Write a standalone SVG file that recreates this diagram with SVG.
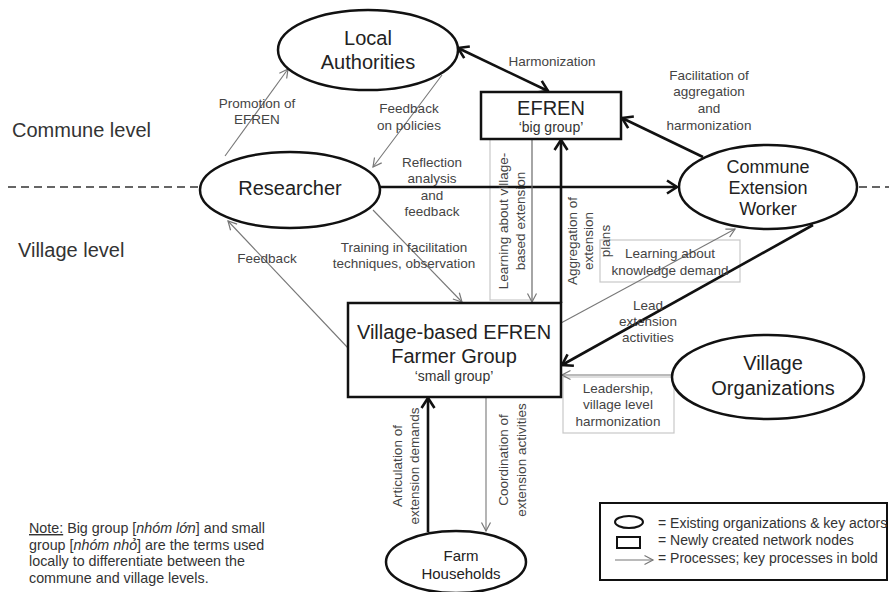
<svg xmlns="http://www.w3.org/2000/svg" width="889" height="592" viewBox="0 0 889 592">
<defs>
<style>
.node{fill:#fff;stroke:#111;stroke-width:2.5}
.nt{font-family:"Liberation Sans",Arial,sans-serif;font-size:20px;fill:#222;text-anchor:middle}
.nts{font-family:"Liberation Sans",Arial,sans-serif;font-size:14px;fill:#333;text-anchor:middle}
.lbl{font-family:"Liberation Sans",Arial,sans-serif;font-size:13.5px;fill:#444;text-anchor:middle}
.thick{stroke:#111;stroke-width:2.6;fill:none;marker-end:url(#ahThick)}
.thin{stroke:#777;stroke-width:1.1;fill:none;marker-end:url(#ahThin)}
.lbox{fill:none;stroke:#c8c8c8;stroke-width:1.2}
.dash{stroke:#333;stroke-width:1.6;stroke-dasharray:8 5}
.side{font-family:"Liberation Sans",Arial,sans-serif;font-size:20px;fill:#333}
.note{font-family:"Liberation Sans",Arial,sans-serif;font-size:14.3px;fill:#333}
.leg{font-family:"Liberation Sans",Arial,sans-serif;font-size:14px;fill:#333}
</style>
<marker id="ahThin" markerUnits="userSpaceOnUse" markerWidth="12" markerHeight="12" viewBox="0 0 12 12" refX="10.5" refY="6" orient="auto"><path d="M2,1.5 L10.5,6 L2,10.5" fill="none" stroke="#777" stroke-width="1.2"/></marker>
<marker id="ahThick" markerUnits="userSpaceOnUse" markerWidth="16" markerHeight="16" viewBox="0 0 16 16" refX="13" refY="8" orient="auto-start-reverse"><path d="M3,1.5 L13,8 L3,14.5" fill="none" stroke="#111" stroke-width="2.6"/></marker>
</defs>
<rect width="889" height="592" fill="#fff"/>

<g id="levels">
<line class="dash" x1="8" y1="187" x2="200" y2="187"/>
<line class="dash" x1="859" y1="187" x2="889" y2="187"/>
<text class="side" x="12" y="137">Commune level</text>
<text class="side" x="18" y="257">Village level</text>
</g>

<g id="connectors">
<rect class="lbox" x="490" y="139" width="42" height="161"/>
<rect class="lbox" x="600" y="240" width="140" height="42"/>
<rect class="lbox" x="563" y="377" width="111" height="56"/>

<line class="thin" x1="225" y1="156" x2="288" y2="69"/>
<line class="thin" x1="442" y1="75" x2="373" y2="167"/>
<line class="thick" x1="458" y1="48" x2="548" y2="91" style="marker-start:url(#ahThick)"/>
<line class="thick" x1="380" y1="187" x2="677" y2="187"/>
<line class="thick" x1="703" y1="157" x2="622" y2="118"/>
<line class="thin" x1="532" y1="139" x2="532" y2="302"/>
<line class="thick" x1="561" y1="303" x2="561" y2="140"/>
<line class="thin" x1="373" y1="210" x2="462" y2="302"/>
<line class="thin" x1="348" y1="348" x2="228" y2="221"/>
<line class="thin" x1="561" y1="323" x2="735" y2="229"/>
<line class="thick" x1="813" y1="225" x2="562" y2="365"/>
<line class="thin" x1="672" y1="375" x2="562" y2="375"/>
<line class="thick" x1="428" y1="532" x2="428" y2="398"/>
<line class="thin" x1="486" y1="397" x2="486" y2="531"/>

<text class="lbl" x="552" y="66">Harmonization</text>
<text class="lbl" x="257" y="108">Promotion of</text>
<text class="lbl" x="257" y="124">EFREN</text>
<text class="lbl" x="409" y="113">Feedback</text>
<text class="lbl" x="409" y="130">on policies</text>
<text class="lbl" x="709" y="80">Facilitation of</text>
<text class="lbl" x="709" y="96">aggregation</text>
<text class="lbl" x="709" y="113">and</text>
<text class="lbl" x="709" y="130">harmonization</text>
<text class="lbl" x="432" y="167">Reflection</text>
<text class="lbl" x="432" y="183">analysis</text>
<text class="lbl" x="432" y="200">and</text>
<text class="lbl" x="432" y="216">feedback</text>
<text class="lbl" x="404" y="252">Training in facilitation</text>
<text class="lbl" x="404" y="268">techniques, observation</text>
<text class="lbl" x="267" y="263">Feedback</text>
<text class="lbl" x="670" y="258">Learning about</text>
<text class="lbl" x="670" y="275">knowledge demand</text>
<text class="lbl" x="648" y="310">Lead</text>
<text class="lbl" x="648" y="326">extension</text>
<text class="lbl" x="648" y="342">activities</text>
<text class="lbl" x="618" y="393">Leadership,</text>
<text class="lbl" x="618" y="409">village level</text>
<text class="lbl" x="618" y="426">harmonization</text>
<text class="lbl" transform="translate(508,221) rotate(-90)">Learning about village-</text>
<text class="lbl" transform="translate(525,221) rotate(-90)">based extension</text>
<text class="lbl" transform="translate(577,241) rotate(-90)">Aggregation of</text>
<text class="lbl" transform="translate(593,241) rotate(-90)">extension</text>
<text class="lbl" transform="translate(610,241) rotate(-90)">plans</text>
<text class="lbl" transform="translate(402,466) rotate(-90)">Articulation of</text>
<text class="lbl" transform="translate(419,466) rotate(-90)">extension demands</text>
<text class="lbl" transform="translate(508,460) rotate(-90)">Coordination of</text>
<text class="lbl" transform="translate(526,460) rotate(-90)">extension activities</text>
</g>

<g id="local-authorities">
<ellipse class="node" cx="368" cy="50" rx="90" ry="40"/>
<text class="nt" x="368" y="45">Local</text>
<text class="nt" x="368" y="69">Authorities</text>
</g>

<g id="researcher">
<ellipse class="node" cx="290" cy="190" rx="90" ry="38"/>
<text class="nt" x="290" y="195">Researcher</text>
</g>

<g id="efren">
<rect class="node" x="481" y="92" width="140" height="47"/>
<text class="nt" x="551" y="115">EFREN</text>
<text class="nts" x="551" y="132">‘big group’</text>
</g>

<g id="commune-extension-worker">
<ellipse class="node" cx="768" cy="187" rx="89" ry="42"/>
<text class="nt" x="768" y="173" style="font-size:18px">Commune</text>
<text class="nt" x="768" y="194" style="font-size:18px">Extension</text>
<text class="nt" x="768" y="215" style="font-size:18px">Worker</text>
</g>

<g id="village-efren-farmer-group">
<rect class="node" x="348" y="303" width="213" height="94"/>
<text class="nt" x="454" y="339">Village-based EFREN</text>
<text class="nt" x="454" y="363">Farmer Group</text>
<text class="nts" x="454" y="381">‘small group’</text>
</g>

<g id="village-organizations">
<ellipse class="node" cx="768" cy="377" rx="96" ry="42"/>
<text class="nt" x="773" y="370">Village</text>
<text class="nt" x="773" y="395">Organizations</text>
</g>

<g id="farm-households">
<ellipse class="node" cx="456" cy="562" rx="70" ry="31"/>
<text class="nt" x="461" y="561" style="font-size:15px">Farm</text>
<text class="nt" x="461" y="579" style="font-size:15px">Households</text>
</g>

<g id="note">
<text class="note" x="29" y="533"><tspan text-decoration="underline">Note:</tspan> Big group [<tspan font-style="italic">nhóm lớn</tspan>] and small</text>
<text class="note" x="29" y="550">group [<tspan font-style="italic">nhóm nhỏ</tspan>] are the terms used</text>
<text class="note" x="29" y="566">locally to differentiate between the</text>
<text class="note" x="29" y="583">commune and village levels.</text>
</g>

<g id="legend">
<rect x="600" y="503" width="287" height="77" fill="#fff" stroke="#111" stroke-width="2"/>
<ellipse cx="629" cy="522" rx="14" ry="6" fill="none" stroke="#111" stroke-width="2"/>
<rect x="617" y="537" width="23" height="11" fill="none" stroke="#111" stroke-width="2"/>
<line class="thin" x1="615" y1="560" x2="653" y2="560"/>
<text class="leg" x="658" y="528">= Existing organizations &amp; key actors</text>
<text class="leg" x="658" y="545">= Newly created network nodes</text>
<text class="leg" x="658" y="563">= Processes; key processes in bold</text>
</g>
</svg>
